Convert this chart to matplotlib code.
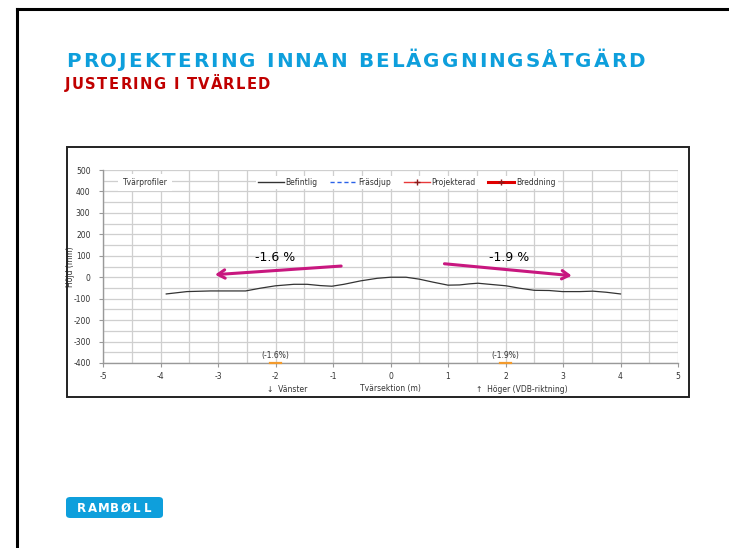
import matplotlib
matplotlib.use("Agg")
import matplotlib.pyplot as plt
from matplotlib.patches import Rectangle, FancyBboxPatch
from matplotlib.lines import Line2D
from matplotlib.ticker import MultipleLocator

plt.rcParams["axes.unicode_minus"] = False

# ---- data ----
profile_x = [-3.9, -3.54, -3.13, -2.52, -2.26, -2.0, -1.68, -1.45, -1.22, -1.02, -0.81, -0.52, -0.23, 0.0,
             0.27, 0.5, 0.74, 1.0, 1.2, 1.37, 1.52, 1.72, 2.01, 2.24, 2.5, 2.76, 2.99, 3.29, 3.52, 3.75, 4.0]
profile_y = [-78, -67, -64, -64, -51, -40, -33, -33, -39, -42, -33, -17, -5, 0,
             0, -9, -23, -37, -36, -31, -28, -33, -40, -51, -61, -62, -67, -67, -65, -70, -78]

slope_labels = ["(-1.6%)", "(-1.9%)"]
slope_x = [-2, 2]
arrow_labels = ["-1.6 %", "-1.9 %"]
arrow_start = [(-0.81, 53), (0.89, 64)]
arrow_end = [(-3.1, 11), (3.2, 6)]
arrow_text_xy = [(-2.0, 93), (2.07, 93)]

legend_labels = ["Befintlig", "Fräsdjup", "Projekterad", "Breddning"]
x_ticks = [-5, -4, -3, -2, -1, 0, 1, 2, 3, 4, 5]
y_ticks = [-400, -300, -200, -100, 0, 100, 200, 300, 400, 500]
logo_letters = "RAMBØLL"
title_text = "PROJEKTERING INNAN BELÄGGNINGSÅTGÄRD"
subtitle_text = "JUSTERING I TVÄRLED"

W, H = 729, 548
fig = plt.figure(figsize=(W / 100, H / 100), dpi=100)
fig.patch.set_facecolor("white")
renderer = fig.canvas.get_renderer()

def fx(px):
    return px / W

def fy(py):
    return 1 - py / H

def text_width(s, **kw):
    t = fig.text(0, 0, s, **kw)
    w = t.get_window_extent(renderer).width
    t.remove()
    return w

def tracked_text(x_px, y_px, s, target_right_px, **kw):
    # place characters with uniform extra letter spacing so the string ends at target_right_px
    ref_w = text_width("X", **kw)
    offsets = [text_width(s[:i] + "X", **kw) - ref_w if i > 0 else 0.0 for i in range(len(s))]
    total = text_width(s, **kw)
    extra = (target_right_px - x_px - total) / max(len(s) - 1, 1)
    for i, ch in enumerate(s):
        if ch == " ":
            continue
        fig.text(fx(x_px + offsets[i] + i * extra), fy(y_px), ch, ha="left", va="baseline", **kw)

# slide frame (top and left lines)
fig.add_artist(Line2D([fx(17), 1.0], [fy(9), fy(9)], color="black", lw=2.2))
fig.add_artist(Line2D([fx(17), fx(17)], [fy(9), 0.0], color="black", lw=2.2))

# titles
tracked_text(66, 67, title_text, 645, color="#0E9FDC", fontsize=14.3, fontweight="bold",
             family="DejaVu Sans")
tracked_text(65, 89, subtitle_text, 270, color="#C00000", fontsize=10.6, fontweight="bold",
             family="DejaVu Sans")

# chart box
fig.add_artist(Rectangle((fx(67), fy(397)), fx(689) - fx(67), fy(147) - fy(397),
                         transform=fig.transFigure, fill=False, edgecolor="#222222", lw=1.4))

# Ramboll logo
fig.add_artist(FancyBboxPatch((fx(66), fy(518)), fx(163) - fx(66), fy(497) - fy(518),
                              boxstyle="round,pad=0,rounding_size=0.006",
                              transform=fig.transFigure, facecolor="#0E9FDC", edgecolor="none"))
n = len(logo_letters)
for i, ch in enumerate(logo_letters):
    px = 81 + i * (148 - 81) / (n - 1)
    fig.text(fx(px), fy(508), ch, color="white", fontsize=8.5, fontweight="bold",
             ha="center", va="center", family="DejaVu Sans")

# axes
ax = fig.add_axes([fx(103), fy(363), fx(678) - fx(103), fy(170) - fy(363)])
ax.set_xlim(-5, 5)
ax.set_ylim(-400, 500)
ax.xaxis.set_minor_locator(MultipleLocator(0.5))
ax.yaxis.set_minor_locator(MultipleLocator(50))
ax.set_xticks(x_ticks)
ax.set_yticks(y_ticks)
ax.grid(True, which="both", color="#cfcfcf", lw=0.9)
ax.set_axisbelow(True)
for s in ["top", "right"]:
    ax.spines[s].set_visible(False)
for s in ["left", "bottom"]:
    ax.spines[s].set_color("#999999")
    ax.spines[s].set_linewidth(1.0)
ax.tick_params(axis="both", which="major", labelsize=5.5, labelcolor="#333333",
               color="#999999", length=3, width=0.8, direction="out")
ax.tick_params(axis="y", which="major", pad=6)
ax.tick_params(axis="both", which="minor", length=0)
ax.set_ylabel("Höjd (mm)", fontsize=5.5, color="#333333")
ax.yaxis.set_label_coords(-0.049, 0.5)

# profile
ax.plot(profile_x, profile_y, color="#333333", lw=0.9, zorder=3)

# slope markers at bottom
for sx, lab in zip(slope_x, slope_labels):
    ax.plot([sx - 0.09, sx + 0.09], [-398, -398], color="#F39A2B", lw=1.6, zorder=4, clip_on=False)
    ax.text(sx, -385, lab, fontsize=5.5, color="#333333", ha="center", va="bottom")

# arrows
for (x0, y0), (x1, y1), (tx, ty), lab in zip(arrow_start, arrow_end, arrow_text_xy, arrow_labels):
    ax.annotate("", xy=(x1, y1), xytext=(x0, y0),
                arrowprops=dict(arrowstyle="->,head_length=0.5,head_width=0.3",
                                color="#C8177F", lw=2.2), zorder=5)
    ax.text(tx, ty, lab, fontsize=9, color="black", ha="center", va="center",
            rotation=0, family="DejaVu Sans")

# legend
handles = [
    Line2D([], [], color="#333333", lw=1.0),
    Line2D([], [], color="#2A62E8", lw=1.0, ls=(0, (3, 2))),
    Line2D([], [], color="#E8393A", lw=1.0, marker="+", markersize=5, markeredgecolor="#8B1A1A"),
    Line2D([], [], color="#E00000", lw=2.2, marker="+", markersize=5, markeredgecolor="#8B1A1A"),
]
leg = ax.legend(handles, legend_labels, ncol=4, loc="center", bbox_to_anchor=(0.528, 0.935),
                fontsize=5.5, frameon=True, framealpha=1, edgecolor="none", facecolor="white",
                handlelength=3.4, handletextpad=0.2, columnspacing=1.7, borderpad=0.3)
for t in leg.get_texts():
    t.set_color("#333333")
leg.get_frame().set_boxstyle("square", pad=0)

ax.text(0.073, 0.935, "Tvärprofiler", transform=ax.transAxes, fontsize=5.5, color="#333333",
        ha="center", va="center",
        bbox=dict(facecolor="white", edgecolor="none", pad=3))

# bottom labels
fig.text(fx(287), fy(389), "↓  Vänster", fontsize=5.5, color="#333333", ha="center", va="center")
fig.text(fx(390), fy(389), "Tvärsektion (m)", fontsize=5.5, color="#333333", ha="center", va="center")
fig.text(fx(522), fy(389), "↑  Höger (VDB-riktning)", fontsize=5.5, color="#333333", ha="center", va="center")

fig.savefig("out.png", dpi=100, facecolor="white")
